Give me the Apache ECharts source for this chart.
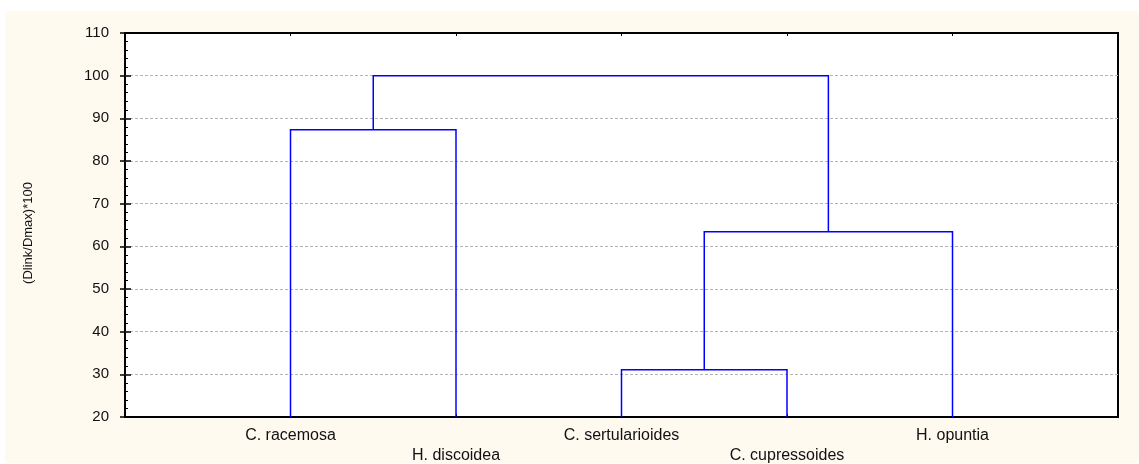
<!DOCTYPE html>
<html lang="en">
<head>
    <meta charset="UTF-8">
    <title>Dendrogram</title>
    <script src="https://cdn.jsdelivr.net/npm/echarts@6/dist/echarts.min.js"></script>
    <style>
        body { margin: 0; background: #ffffff; }
        #main { position: absolute; left: 5px; top: 11px; width: 1134px; height: 452px; }
    </style>
</head>
<body>
<div id="main"></div>
<script>
    // leaves in plotting order (x = 1..5)
    var leaves = ['C. racemosa', 'H. discoidea', 'C. sertularioides', 'C. cupressoides', 'H. opuntia'];
    // merges: [left node, right node, linkage height]; nodes 0..4 are leaves, 5.. are clusters
    var merges = [
        [0, 1, 87.3],
        [2, 3, 31.1],
        [6, 4, 63.4],
        [5, 7, 100]
    ];
    var yTicks = [20, 30, 40, 50, 60, 70, 80, 90, 100, 110];

    var nodeX = [], nodeY = [];
    for (var i = 0; i < leaves.length; i++) {
        nodeX.push(i + 1);
        nodeY.push(yTicks[0]);
    }
    var links = [];
    for (var j = 0; j < merges.length; j++) {
        var a = merges[j][0], b = merges[j][1], h = merges[j][2];
        links.push({
            coords: [[nodeX[a], nodeY[a]], [nodeX[a], h], [nodeX[b], h], [nodeX[b], nodeY[b]]]
        });
        nodeX.push((nodeX[a] + nodeX[b]) / 2);
        nodeY.push(h);
    }

    var myChart = echarts.init(document.getElementById('main'));
    var font = 'Liberation Sans, Arial, sans-serif';
    option = {
        backgroundColor: '#fffaf0',
        animation: false,
        grid: {
            left: 120,
            right: 21,
            top: 22,
            bottom: 46,
            outerBoundsMode: 'none',
            containLabel: false,
            show: true,
            backgroundColor: '#ffffff',
            borderColor: '#000000',
            borderWidth: 2
        },
        xAxis: [
            {
                type: 'value',
                min: 0,
                max: leaves.length + 1,
                interval: 1,
                axisLine: { show: false },
                axisTick: { show: true, inside: true, length: 3, lineStyle: { color: '#000' } },
                splitLine: { show: false },
                axisLabel: {
                    margin: 9,
                    color: '#111',
                    fontFamily: font,
                    fontSize: 16,
                    lineHeight: 20,
                    formatter: function (v) {
                        var name = leaves[v - 1];
                        if (!name) return '';
                        return (v % 2 === 0) ? '\n' + name : name;
                    }
                }
            },
            {
                type: 'value',
                position: 'top',
                min: 0,
                max: leaves.length + 1,
                interval: 1,
                axisLine: { show: false },
                axisTick: { show: true, inside: true, length: 3, lineStyle: { color: '#000' } },
                splitLine: { show: false },
                axisLabel: { show: false }
            }
        ],
        yAxis: [
            {
                type: 'value',
                min: yTicks[0],
                max: yTicks[yTicks.length - 1],
                interval: 10,
                name: '(Dlink/Dmax)*100',
                nameLocation: 'middle',
                nameGap: 90,
                nameRotate: 90,
                nameTextStyle: { color: '#111', fontFamily: font, fontSize: 13, padding: [0, 16, 0, 0] },
                axisLine: { show: false },
                axisTick: { show: true, inside: true, length: 6, lineStyle: { color: '#000', width: 1.5 } },
                minorTick: { show: true, splitNumber: 5, length: 3, lineStyle: { color: '#000' } },
                splitLine: {
                    show: true,
                    showMinLine: false,
                    showMaxLine: false,
                    lineStyle: { color: '#b4b4b4', type: [3, 2], width: 1.2 }
                },
                axisLabel: {
                    margin: 16,
                    color: '#111',
                    fontFamily: font,
                    fontSize: 15
                }
            },
            {
                type: 'value',
                position: 'right',
                min: yTicks[0],
                max: yTicks[yTicks.length - 1],
                interval: 10,
                axisLine: { show: false },
                axisTick: { show: true, inside: true, length: 5, lineStyle: { color: '#000', width: 1.5 } },
                splitLine: { show: false },
                axisLabel: { show: false }
            }
        ],
        series: [
            {
                type: 'lines',
                coordinateSystem: 'cartesian2d',
                polyline: true,
                xAxisIndex: 0,
                yAxisIndex: 0,
                lineStyle: { color: '#0000ff', width: 1.5, opacity: 1 },
                data: links
            }
        ]
    };
    myChart.setOption(option);
</script>
</body>
</html>
